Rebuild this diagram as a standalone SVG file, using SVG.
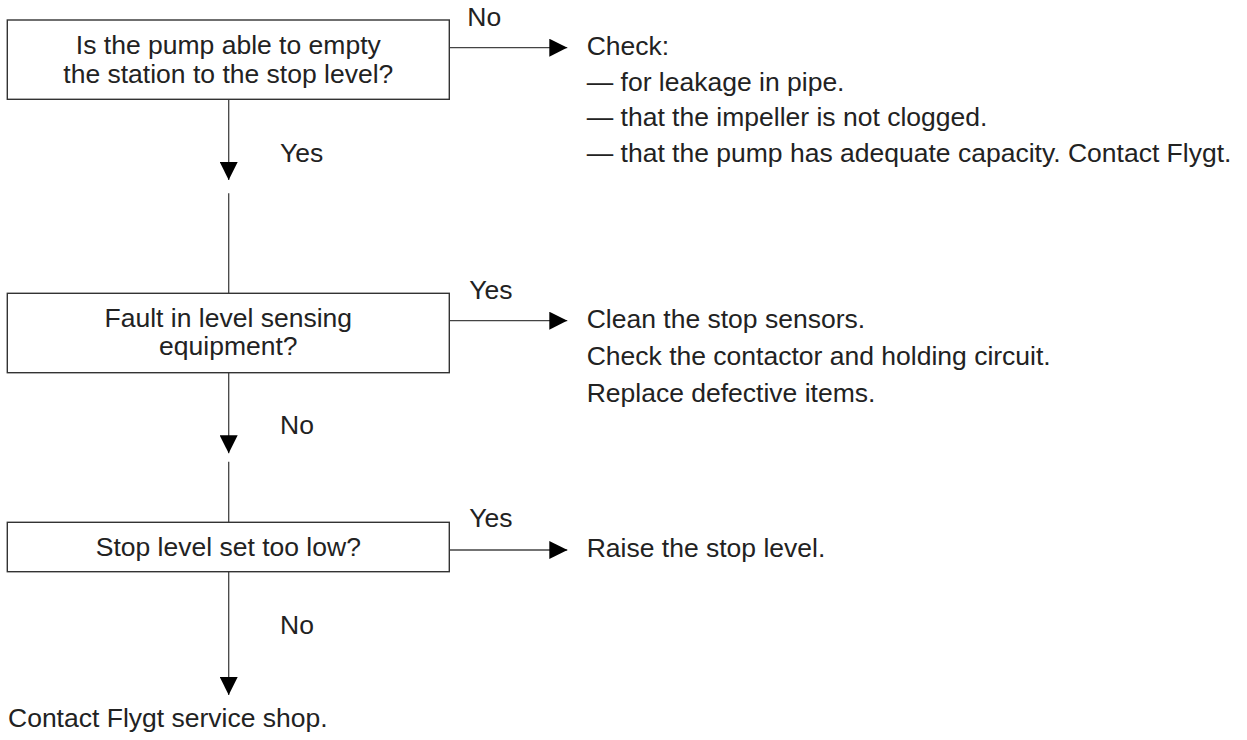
<svg xmlns="http://www.w3.org/2000/svg" width="1247" height="740" viewBox="0 0 1247 740">
<style>
.box{fill:#fff;stroke:#333;stroke-width:1.4}
.ln{stroke:#444;stroke-width:1.3;fill:none}
.t{font-family:"Liberation Sans",Arial,sans-serif;font-size:26.5px;fill:#222}
.c{text-anchor:middle}
</style>
<defs>
<marker id="ah" markerWidth="18" markerHeight="18" viewBox="0 0 18 18" refX="18" refY="9" orient="auto" markerUnits="userSpaceOnUse">
<path d="M0,0 L18,9 L0,18 Z" fill="#000"/>
</marker>
</defs>
<rect width="1247" height="740" fill="#fff"/>
<g id="connectors">
<line class="ln" x1="228.7" y1="100" x2="228.7" y2="180" marker-end="url(#ah)"/>
<line class="ln" x1="228.7" y1="193.3" x2="228.7" y2="293.3"/>
<line class="ln" x1="228.7" y1="373" x2="228.7" y2="453.3" marker-end="url(#ah)"/>
<line class="ln" x1="228.7" y1="461.7" x2="228.7" y2="522"/>
<line class="ln" x1="228.7" y1="572" x2="228.7" y2="695" marker-end="url(#ah)"/>
<line class="ln" x1="449.3" y1="47.7" x2="567.3" y2="47.7" marker-end="url(#ah)"/>
<line class="ln" x1="449.3" y1="320.7" x2="567.3" y2="320.7" marker-end="url(#ah)"/>
<line class="ln" x1="449.3" y1="550" x2="567.3" y2="550" marker-end="url(#ah)"/>
<text class="t" x="467.3" y="26">No</text>
<text class="t" x="280" y="162">Yes</text>
<text class="t" x="469.3" y="299.3">Yes</text>
<text class="t" x="280" y="434.3">No</text>
<text class="t" x="469.3" y="526.7">Yes</text>
<text class="t" x="280" y="634">No</text>
</g>
<g id="q1">
<rect class="box" x="7.3" y="20" width="442" height="79.3"/>
<text class="t c" x="228.3" y="54">Is the pump able to empty</text>
<text class="t c" x="228.3" y="83">the station to the stop level?</text>
</g>
<g id="a1">
<text class="t" x="586.7" y="55">Check:</text>
<text class="t" x="586.7" y="90.5">— for leakage in pipe.</text>
<text class="t" x="586.7" y="126">— that the impeller is not clogged.</text>
<text class="t" x="586.7" y="161.5">— that the pump has adequate capacity. Contact Flygt.</text>
</g>
<g id="q2">
<rect class="box" x="7.3" y="293.3" width="442" height="79.4"/>
<text class="t c" x="228.3" y="326.5">Fault in level sensing</text>
<text class="t c" x="228.3" y="355">equipment?</text>
</g>
<g id="a2">
<text class="t" x="586.7" y="328">Clean the stop sensors.</text>
<text class="t" x="586.7" y="365">Check the contactor and holding circuit.</text>
<text class="t" x="586.7" y="402">Replace defective items.</text>
</g>
<g id="q3">
<rect class="box" x="7.3" y="522.3" width="442" height="49.4"/>
<text class="t c" x="228.3" y="556">Stop level set too low?</text>
</g>
<g id="a3">
<text class="t" x="586.7" y="557">Raise the stop level.</text>
</g>
<g id="end">
<text class="t" x="8" y="727">Contact Flygt service shop.</text>
</g>
</svg>
